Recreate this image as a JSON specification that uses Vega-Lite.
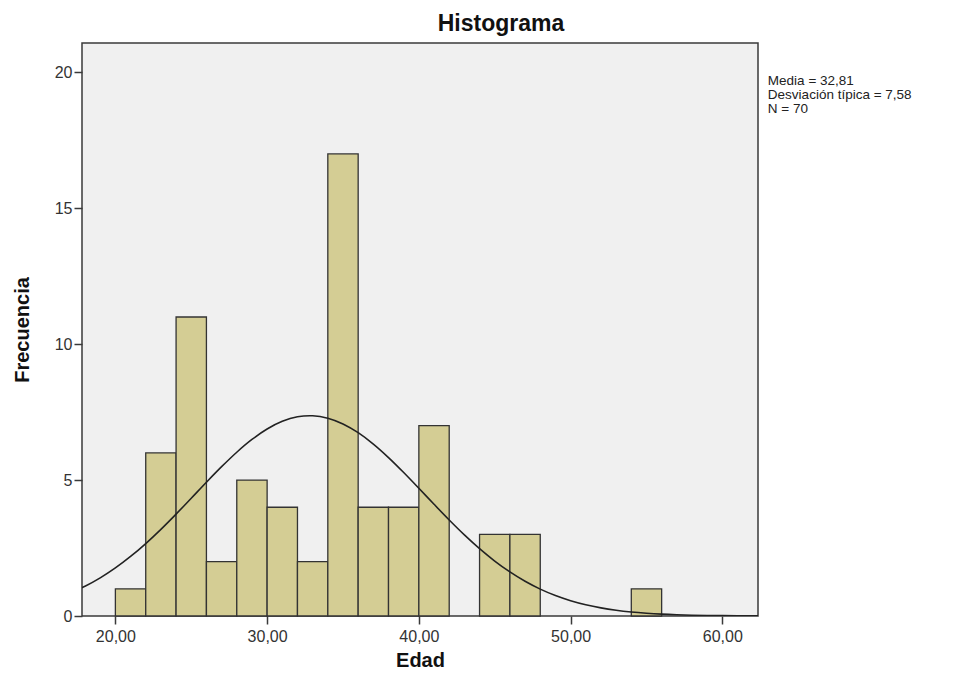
{
  "$schema": "https://vega.github.io/schema/vega-lite/v6.json",
  "width": 676,
  "height": 573,
  "autosize": {"type": "none"},
  "padding": {"left": 82, "top": 43, "right": 201, "bottom": 60},
  "background": "white",
  "config": {
    "font": "Liberation Sans",
    "view": {"fill": "#f0f0f0", "stroke": "#3a3a3a", "strokeWidth": 1.5},
    "axis": {"grid": false, "domain": false, "tickColor": "#3a3a3a", "tickSize": 8, "tickWidth": 1.5, "labelColor": "#333333", "labelFontSize": 16, "titleColor": "#111111", "titleFontSize": 20, "titleFontWeight": "bold"}
  },
  "title": {"text": "Histograma", "fontSize": 23, "fontWeight": "bold", "color": "#111111", "anchor": "middle", "dx": 81, "dy": 22, "offset": 11, "baseline": "alphabetic"},
  "datasets": {
    "bins": [
      {"bin_start": 20, "bin_end": 22, "count": 1},
      {"bin_start": 22, "bin_end": 24, "count": 6},
      {"bin_start": 24, "bin_end": 26, "count": 11},
      {"bin_start": 26, "bin_end": 28, "count": 2},
      {"bin_start": 28, "bin_end": 30, "count": 5},
      {"bin_start": 30, "bin_end": 32, "count": 4},
      {"bin_start": 32, "bin_end": 34, "count": 2},
      {"bin_start": 34, "bin_end": 36, "count": 17},
      {"bin_start": 36, "bin_end": 38, "count": 4},
      {"bin_start": 38, "bin_end": 40, "count": 4},
      {"bin_start": 40, "bin_end": 42, "count": 7},
      {"bin_start": 44, "bin_end": 46, "count": 3},
      {"bin_start": 46, "bin_end": 48, "count": 3},
      {"bin_start": 54, "bin_end": 56, "count": 1}
    ],
    "curve": [
      {"x": 17.8, "y": 1.04}, {"x": 18, "y": 1.093}, {"x": 19, "y": 1.401}, {"x": 20, "y": 1.767},
      {"x": 21, "y": 2.189}, {"x": 22, "y": 2.665}, {"x": 23, "y": 3.189}, {"x": 24, "y": 3.75},
      {"x": 25, "y": 4.334}, {"x": 26, "y": 4.922}, {"x": 27, "y": 5.493}, {"x": 28, "y": 6.025},
      {"x": 29, "y": 6.494}, {"x": 30, "y": 6.879}, {"x": 31, "y": 7.161}, {"x": 32, "y": 7.327},
      {"x": 32.81, "y": 7.368}, {"x": 33, "y": 7.366}, {"x": 34, "y": 7.278}, {"x": 35, "y": 7.067},
      {"x": 36, "y": 6.744}, {"x": 37, "y": 6.325}, {"x": 38, "y": 5.829}, {"x": 39, "y": 5.279},
      {"x": 40, "y": 4.699}, {"x": 41, "y": 4.11}, {"x": 42, "y": 3.533}, {"x": 43, "y": 2.985},
      {"x": 44, "y": 2.478}, {"x": 45, "y": 2.022}, {"x": 46, "y": 1.621}, {"x": 47, "y": 1.278},
      {"x": 48, "y": 0.989}, {"x": 49, "y": 0.753}, {"x": 50, "y": 0.563}, {"x": 51, "y": 0.414},
      {"x": 52, "y": 0.299}, {"x": 53, "y": 0.212}, {"x": 54, "y": 0.148}, {"x": 55, "y": 0.102},
      {"x": 56, "y": 0.068}, {"x": 57, "y": 0.045}, {"x": 58, "y": 0.03}, {"x": 59, "y": 0.019},
      {"x": 60, "y": 0.012}, {"x": 61, "y": 0.007}, {"x": 62, "y": 0.004}, {"x": 62.35, "y": 0.004}
    ]
  },
  "layer": [
    {
      "data": {"name": "bins"},
      "mark": {"type": "bar", "fill": "#d4cd94", "stroke": "#333333", "strokeWidth": 1.3},
      "encoding": {
        "x": {"field": "bin_start", "type": "quantitative", "title": "Edad",
          "scale": {"domain": [17.8, 62.35], "nice": false, "zero": false},
          "axis": {"values": [20, 30, 40, 50, 60], "labelExpr": "replace(format(datum.value, '.2f'), '.', ',')", "titlePadding": 6, "labelPadding": 4}},
        "x2": {"field": "bin_end"},
        "y": {"field": "count", "type": "quantitative", "title": "Frecuencia",
          "scale": {"domain": [0, 21.08], "nice": false},
          "axis": {"values": [0, 5, 10, 15, 20], "titlePadding": 22, "labelPadding": 2}},
        "y2": {"datum": 0}
      }
    },
    {
      "data": {"name": "curve"},
      "mark": {"type": "line", "color": "#222222", "strokeWidth": 1.6, "interpolate": "monotone", "clip": true},
      "encoding": {
        "x": {"field": "x", "type": "quantitative"},
        "y": {"field": "y", "type": "quantitative"}
      }
    },
    {
      "data": {"values": [{}]},
      "mark": {"type": "text", "align": "left", "baseline": "top", "fontSize": 13.5, "lineHeight": 14, "color": "#222222",
        "text": ["Media = 32,81", "Desviación típica = 7,58", "N = 70"]},
      "encoding": {
        "x": {"datum": 63},
        "y": {"datum": 19.95}
      }
    }
  ]
}
